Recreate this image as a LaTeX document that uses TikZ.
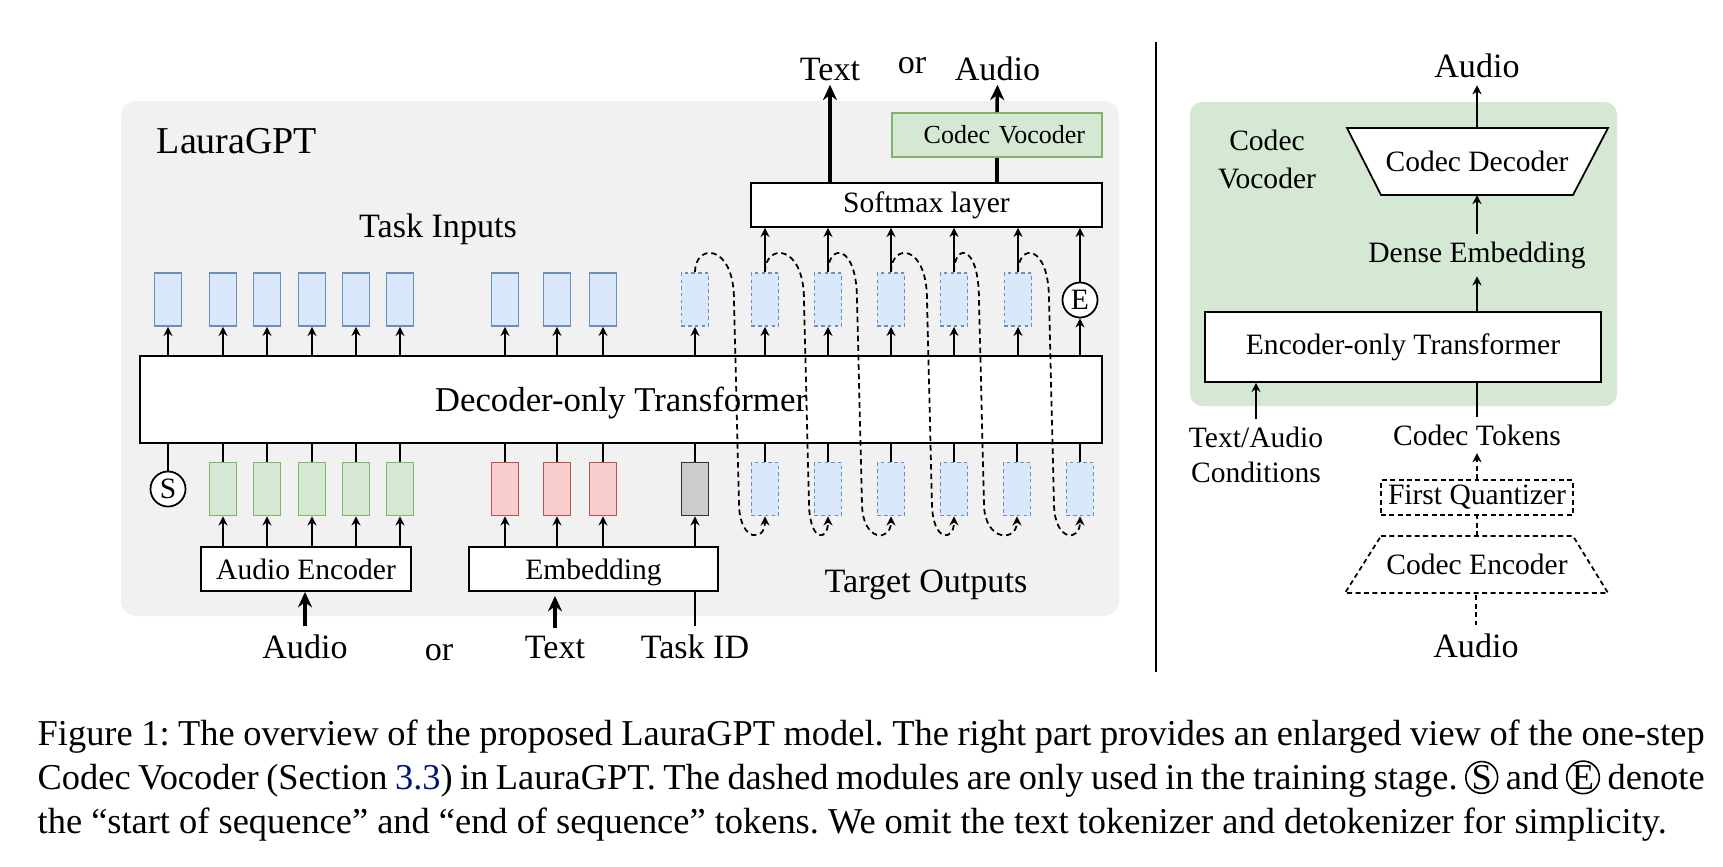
\documentclass[tikz,border=0pt]{standalone}
\usepackage{fontspec}
\setmainfont{Liberation Serif}
\usepackage{tikz}
\usetikzlibrary{arrows.meta,positioning,shapes.geometric}

\definecolor{bgray}{HTML}{F1F1F1}
\definecolor{tokblue}{HTML}{DAE8FC}
\definecolor{tokblueline}{HTML}{6C8EBF}
\definecolor{tokgreen}{HTML}{D5E8D4}
\definecolor{tokgreenline}{HTML}{82B366}
\definecolor{tokred}{HTML}{F8CECC}
\definecolor{tokredline}{HTML}{B85450}
\definecolor{tokgray}{HTML}{CCCCCC}
\definecolor{linkblue}{RGB}{0,20,115}

\newcommand{\lblfnt}{\fontsize{8.4}{10.4}\selectfont}
\newcommand{\bigfnt}{\fontsize{9.7}{11.6}\selectfont}
\newcommand{\capcirc}[1]{\tikz[baseline=(cc.base)]\node[draw,circle,inner sep=0pt,line width=0.45pt] (cc) {#1};}

\tikzset{
  tok/.style={rectangle, minimum width=0.27cm, minimum height=0.53cm, inner sep=0pt},
  bluetok/.style={tok, fill=tokblue, draw=tokblueline},
  dashtok/.style={bluetok, dash pattern=on 1pt off 0.9pt},
  greentok/.style={tok, fill=tokgreen, draw=tokgreenline},
  redtok/.style={tok, fill=tokred, draw=tokredline},
  graytok/.style={tok, fill=tokgray, draw=black!80},
  blk/.style={draw, fill=white, inner sep=0pt, font=\lblfnt},
  symb/.style={draw, circle, fill=white, minimum size=0.35cm, inner sep=0pt, font=\lblfnt},
  arr/.style={-{Stealth[length=2.6pt, width=2.6pt]}},
  thickarr/.style={line width=1pt, -{Stealth[length=4.4pt, width=4pt]}},
  fbloop/.style={dash pattern=on 1.6pt off 1.1pt, -{Stealth[length=2.6pt, width=2.6pt]}},
  dsh/.style={dash pattern=on 1.4pt off 1pt},
  txt/.style={inner sep=2pt, anchor=base, font=\bigfnt},
}

\begin{document}
\begin{tikzpicture}[x=0.01cm, y=-0.01cm, line width=0.5pt]
    \useasboundingbox (0,0) rectangle (1723,866);
    % LauraGPT panel
    \fill[bgray, rounded corners=0.15cm] (121,101) rectangle (1119,616);
    \node[anchor=base west, inner sep=0pt, font=\fontsize{10.8}{13}\selectfont] (laura) at (156,153) {LauraGPT};
    \node[txt] (tin) at (438,237) {Task Inputs};
    \node[txt] (tout) at (926,592) {Target Outputs};

    % Decoder
    \node[blk, minimum width=9.62cm, minimum height=0.87cm, text depth=0pt, font=\fontsize{9.9}{12}\selectfont] (dec) at (621,399.5) {Decoder-only Transformer};

    % Top row
    \foreach \x [count=\i] in {168,223,267,312,356,400,505,557,603}
        \node[bluetok] (in\i) at (\x,299.5) {};
    \foreach \x [count=\i] in {695,765,828,891,954,1018}
        \node[dashtok] (o\i) at (\x,299.5) {};
    \node[symb] (eos) at (1080,300) {E};

    % Bottom row
    \node[symb] (sos) at (168,489) {S};
    \foreach \x [count=\i] in {223,267,312,356,400}
        \node[greentok] (a\i) at (\x,489) {};
    \foreach \x [count=\i] in {505,557,603}
        \node[redtok] (t\i) at (\x,489) {};
    \node[graytok] (tid) at (695,489) {};
    \foreach \x [count=\i] in {765,828,891,954,1017,1080}
        \node[dashtok] (b\i) at (\x,489) {};

    % Decoder in and out
    \foreach \i in {1,...,9}
        \draw[arr] (dec.north -| in\i) -- (in\i.south);
    \foreach \i in {1,...,6}
        \draw[arr] (dec.north -| o\i) -- (o\i.south);
    \draw[arr] (dec.north -| eos) -- (eos.south);
    \foreach \nx in {sos,a1,a2,a3,a4,a5,t1,t2,t3,tid,b1,b2,b3,b4,b5,b6}
        \draw (\nx.north) -- (\nx.north |- dec.south);

    % Encoders
    \node[blk, minimum width=2.10cm, minimum height=0.44cm] (aenc) at (306,569) {Audio Encoder};
    \node[blk, minimum width=2.49cm, minimum height=0.44cm, text depth=0pt] (emb) at (593.5,569) {Embedding};
    \foreach \nx in {a1,a2,a3,a4,a5}
        \draw[arr] (aenc.north -| \nx) -- (\nx.south);
    \foreach \nx in {t1,t2,t3,tid}
        \draw[arr] (emb.north -| \nx) -- (\nx.south);

    % Inputs
    \node[txt] (audin) at (305,658) {Audio};
    \node[txt] (orin) at (439,660) {or};
    \node[txt] (textin) at (555,658) {Text};
    \node[txt] (taskid) at (695,658) {Task ID};
    \draw[thickarr] (audin.north) -- (audin.north |- aenc.south);
    \draw[thickarr, shorten >=0.04cm] (textin.north) -- (textin.north |- emb.south);
    \draw (taskid.north) -- (taskid.north |- emb.south);

    % Softmax and vocoder
    \node[blk, minimum width=3.51cm, minimum height=0.44cm] (soft) at (926.5,205) {Softmax layer};
    \foreach \i in {2,...,6}
        \draw[arr] (o\i.north) -- (soft.south -| o\i);
    \draw[arr] (eos.north) -- (soft.south -| eos);
    \node[blk, fill=tokgreen, draw=tokgreenline, text width=1.76cm, align=right, inner xsep=0.17cm, minimum height=0.44cm, font=\fontsize{7.4}{9}\selectfont] (voc) at (997,135) {Codec Vocoder};
    \node[txt, inner sep=1pt] (textout) at (830,80) {Text};
    \node[txt] (orout) at (912,73) {or};
    \node[txt, inner sep=1pt] (audout) at (997.5,80) {Audio};
    \draw[thickarr] (textout.south |- soft.north) -- (textout.south);
    \draw[line width=1pt] (soft.north -| voc) -- (voc.south);
    \draw[thickarr] (voc.north) -- (audout.south);

    % Feedback loops
    \foreach \s/\d/\nx [count=\i] in {695/734/765,765/804/828,828/857/891,891/927/954,954/979/1017,1018/1049/1080}
        \draw[fbloop] (o\i.north) .. controls (\s,243) and (\d,243) .. (\d,300)
            -- (\d+5,505) .. controls (\d+6,542) and (\nx,542) .. (b\i.south);

    % Right part
    \draw (1156,42) -- (1156,672);
    \fill[tokgreen, rounded corners=0.12cm] (1190,102) rectangle (1617,406);
    \node[align=center, font=\fontsize{8.4}{10.8}\selectfont] (vlab) at (1267,159) {Codec\\Vocoder};
    % Codec decoder
    \coordinate (cdtop) at (1477,128);
    \coordinate (cdbot) at (1477,195);
    \filldraw[fill=white] (1347,128) -- (1608,128) -- (1573,195) -- (1381,195) -- cycle;
    \node[font=\lblfnt] (cdec) at (1477,161.5) {Codec Decoder};
    \node[txt] (audv) at (1477,77) {Audio};
    \draw[arr] (cdtop) -- (audv.south);
    \node[txt, font=\lblfnt] (dense) at (1477,262) {Dense Embedding};
    \draw[arr] (dense.north) -- (cdbot);
    \node[blk, minimum width=3.96cm, minimum height=0.70cm] (enc) at (1403,347) {Encoder-only Transformer};
    \draw[arr] (enc.north -| dense) -- (dense.south);
    \node[align=center, inner sep=2pt, font=\fontsize{8.4}{10}\selectfont] (cond) at (1256,455) {Text/Audio\\Conditions};
    \draw[arr] (cond.north) -- (cond.north |- enc.south);
    \node[txt, font=\lblfnt] (ctok) at (1477,445) {Codec Tokens};
    \draw (ctok.north) -- (ctok.north |- enc.south);
    \node[draw, dsh, minimum width=1.92cm, minimum height=0.35cm, inner sep=0pt, font=\lblfnt] (fq) at (1477,497.5) {First Quantizer};
    \draw[arr, dsh] (fq.north) -- (ctok.south);
    % Codec encoder
    \coordinate (cetop) at (1477,536);
    \coordinate (cebot) at (1477,593);
    \draw[dsh] (1381,536) -- (1573,536) -- (1608,593) -- (1345,593) -- cycle;
    \node[font=\lblfnt] (cenc) at (1477,564.5) {Codec Encoder};
    \draw[dsh] (cetop) -- (fq.south);
    \node[txt] (audr) at (1476,657) {Audio};
    \draw[dsh] (audr.north) -- (audr.north |- cebot);

    % Caption
    \node[anchor=north west, inner sep=0pt, text width=16.66cm, align=justify, font=\fontsize{10.35}{12.5}\selectfont\frenchspacing] (cap) at (37,719) {Figure 1: The overview of the proposed LauraGPT model. The right part provides an enlarged view of the one-step\linebreak Codec Vocoder (Section \textcolor{linkblue}{3.3}) in LauraGPT. The dashed modules are only used in the training stage. \capcirc{S} and \capcirc{E} denote\linebreak the ``start of sequence'' and ``end of sequence'' tokens. We omit the text tokenizer and detokenizer for simplicity.};
\end{tikzpicture}
\end{document}
